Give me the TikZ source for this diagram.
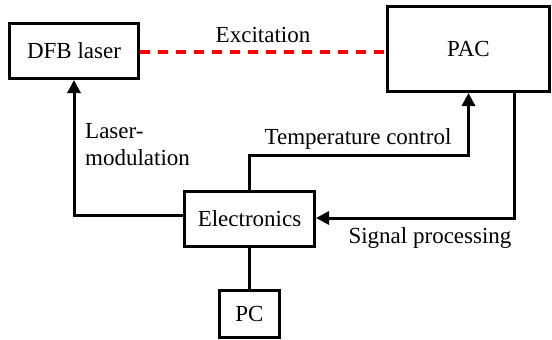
\documentclass[tikz,border=0pt]{standalone}
\usepackage{fontspec}
\setmainfont{Liberation Serif}
\newfontfamily\labelfont{Liberation Serif}
\usetikzlibrary{arrows.meta}
\begin{document}
\begin{tikzpicture}[x=1pt,y=-1pt,
  box/.style={draw,line width=3pt,inner sep=0pt,font=\labelfont\fontsize{23}{27}\selectfont},
  wire/.style={line width=3pt},
  arr/.style={wire,-{Triangle[length=13pt,width=13pt]}},
  lbl/.style={font=\labelfont\fontsize{23}{27}\selectfont,inner sep=0pt}]
  \useasboundingbox (0,0) rectangle (552,340);
  % blocks
  \node[box,minimum width=129pt,minimum height=55pt] (dfb) at (74,51) {DFB laser};
  \node[box,minimum width=162pt,minimum height=85pt] (pac) at (468.5,49) {PAC};
  \node[box,minimum width=130pt,minimum height=55pt] (elec) at (249.5,219) {Electronics};
  \node[box,minimum width=60pt,minimum height=47pt] (pc) at (249.5,314) {PC};
  % bend points
  \coordinate (tc) at (468.5,155);
  \coordinate (sp) at (514,218);
  \coordinate (lm) at (184,215);
  % connectors
  \draw[red,line width=3.5pt,dash pattern=on 10pt off 8pt] (dfb.east |- 0,52) -- (pac.west |- 0,52);
  \draw[arr] (lm) -| (dfb.south);
  \draw[arr] (elec.north) |- (tc) -- (pac.south);
  \draw[arr] (sp |- pac.south) -- (sp) -- (elec.east |- sp);
  \draw[wire] (elec.south) -- (pc.north);
  % labels
  \node[lbl] (exc) at (263,35) {Excitation};
  \node[lbl,anchor=west] (lm1) at (85,131) {Laser-};
  \node[lbl,anchor=west] (lm2) at (85,158) {modulation};
  \node[lbl] (tcl) at (358,139) {Temperature control};
  \node[lbl] (spl) at (430,238) {Signal processing};
\end{tikzpicture}
\end{document}
